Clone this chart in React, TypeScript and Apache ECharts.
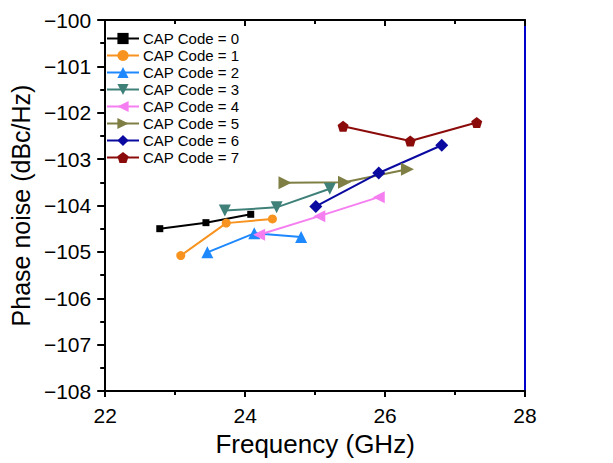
import React, { useEffect, useRef } from "react";
import * as echarts from "echarts";

const seriesNames = [
  "CAP Code = 0",
  "CAP Code = 1",
  "CAP Code = 2",
  "CAP Code = 3",
  "CAP Code = 4",
  "CAP Code = 5",
  "CAP Code = 6",
  "CAP Code = 7",
];

const freq0 = [22.78, 23.44, 24.08];
const pn0 = [-104.5, -104.37, -104.19];
const freq1 = [23.08, 23.73, 24.39];
const pn1 = [-105.08, -104.38, -104.29];
const freq2 = [23.46, 24.13, 24.8];
const pn2 = [-105.01, -104.6, -104.68];
const freq3 = [23.71, 24.45, 25.21];
const pn3 = [-104.11, -104.04, -103.64];
const freq4 = [24.2, 25.06, 25.91];
const pn4 = [-104.63, -104.23, -103.82];
const freq5 = [24.57, 25.42, 26.32];
const pn5 = [-103.51, -103.5, -103.22];
const freq6 = [25.01, 25.91, 26.81];
const pn6 = [-104.02, -103.3, -102.7];
const freq7 = [25.4, 26.36, 27.31];
const pn7 = [-102.29, -102.61, -102.21];

const freqs = [freq0, freq1, freq2, freq3, freq4, freq5, freq6, freq7];
const pns = [pn0, pn1, pn2, pn3, pn4, pn5, pn6, pn7];

const colors = ["#000000", "#f7931e", "#1e88ff", "#3f8079", "#f57ff0", "#7f7f45", "#0a0aa0", "#8b0a0a"];
const pentagon = "path://M0,-1 L0.951,-0.309 L0.588,0.809 L-0.588,0.809 L-0.951,-0.309 Z";
const symbols = ["rect", "circle", "triangle", "triangle", "triangle", "triangle", "diamond", pentagon];
const rotations = [0, 0, 0, 180, 90, -90, 0, 0];
const sizes = [7, 9, 12, 12, 12, 13, 13, 11];

const fmtMinus = (v: number) => (v < 0 ? "\u2212" + Math.abs(v) : String(v));

export default function App() {
  const ref = useRef<HTMLDivElement>(null);
  useEffect(() => {
    if (!ref.current) return;
    const chart = echarts.init(ref.current, undefined, { renderer: "svg" });
    const font = "Arial, 'Liberation Sans', sans-serif";
    const series = seriesNames.map((name, i) => ({
      name,
      type: "line",
      data: freqs[i].map((x, j) => [x, pns[i][j]]),
      symbol: symbols[i],
      symbolRotate: rotations[i],
      symbolSize: sizes[i],
      showAllSymbol: true,
      lineStyle: { color: colors[i], width: 2 },
      itemStyle: { color: colors[i] },
      emphasis: { disabled: true },
    }));
    chart.setOption({
      animation: false,
      backgroundColor: "#ffffff",
      textStyle: { fontFamily: font },
      grid: { left: 95, right: 88, top: 20, bottom: 72, containLabel: false },
      legend: {
        orient: "vertical",
        left: 106,
        top: 31,
        padding: 0,
        itemWidth: 32,
        itemHeight: 14,
        itemGap: 2,
        textStyle: { fontSize: 15, lineHeight: 14, color: "#000", fontFamily: font, padding: [0, 0, 0, -1] },
        data: seriesNames,
      },
      xAxis: [
        {
          type: "value",
          position: "bottom",
          min: 22,
          max: 28,
          interval: 2,
          name: "Frequency (GHz)",
          nameLocation: "middle",
          nameGap: 38,
          nameTextStyle: { fontSize: 26, color: "#000", fontFamily: font },
          axisLine: { lineStyle: { color: "#000", width: 2 } },
          axisTick: { length: 6, lineStyle: { color: "#000", width: 2 } },
          minorTick: { show: true, splitNumber: 2, length: 4, lineStyle: { color: "#000", width: 2 } },
          axisLabel: { fontSize: 21, color: "#000", margin: 14, fontFamily: font },
          splitLine: { show: false },
        },
        {
          type: "value",
          position: "top",
          min: 22,
          max: 28,
          interval: 2,
          axisLine: { lineStyle: { color: "#000", width: 2 } },
          axisTick: { inside: true, length: 6, lineStyle: { color: "#000", width: 2 } },
          minorTick: { show: true, splitNumber: 2, length: 4, lineStyle: { color: "#000", width: 2 } },
          axisLabel: { show: false },
          splitLine: { show: false },
        },
      ],
      yAxis: [
        {
          type: "value",
          position: "left",
          min: -108,
          max: -100,
          interval: 1,
          name: "Phase noise (dBc/Hz)",
          nameLocation: "middle",
          nameGap: 65,
          nameTextStyle: { fontSize: 25, color: "#000", fontFamily: font },
          axisLine: { lineStyle: { color: "#000", width: 2 } },
          axisTick: { length: 8, lineStyle: { color: "#000", width: 2 } },
          minorTick: { show: true, splitNumber: 2, length: 5, lineStyle: { color: "#000", width: 2 } },
          axisLabel: { fontSize: 21, color: "#000", margin: 14, formatter: fmtMinus, fontFamily: font },
          splitLine: { show: false },
        },
        {
          type: "value",
          position: "right",
          min: -108,
          max: -100,
          axisLine: { show: true, lineStyle: { color: "#0000cc", width: 2 } },
          axisTick: { show: false },
          axisLabel: { show: false },
          splitLine: { show: false },
        },
      ],
      series,
    });
    return () => chart.dispose();
  }, []);
  return <div ref={ref} style={{ position: "absolute", left: 0, top: 0, width: 613, height: 463 }} />;
}
